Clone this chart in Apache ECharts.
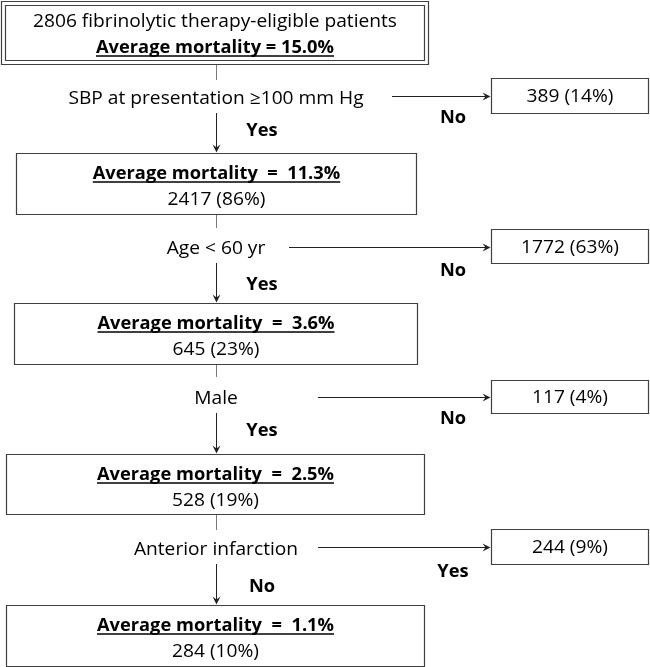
<!DOCTYPE html>
<html>
<head>
<meta charset="utf-8">
<script src="https://cdn.jsdelivr.net/npm/echarts@6/dist/echarts.min.js"></script>
<style>
  html, body { margin: 0; padding: 0; background: #fff; }
  #chart { width: 650px; height: 667px; }
</style>
</head>
<body>
<div id="chart"></div>
<script>
// ---------------- DATA ----------------
const cohortLabel = 'fibrinolytic therapy-eligible patients';
const nodeCounts = [2806, 2417, 645, 528, 284];
const nodePct = [null, 86, 23, 19, 10];
const mortality = [15.0, 11.3, 3.6, 2.5, 1.1];
const criteria = ['SBP at presentation \u2265100 mm Hg', 'Age < 60 yr', 'Male', 'Anterior infarction'];
const continueLabel = ['Yes', 'Yes', 'Yes', 'No'];
const exitLabel = ['No', 'No', 'No', 'Yes'];
const exitCounts = [389, 1772, 117, 244];
const exitPct = [14, 63, 4, 9];

// ---------------- LAYOUT (positions in px of a 650x667 canvas) ----------------
const LAYOUT = {
  lineX: 216,
  mainBoxes: [[1, 1, 428, 64], [16, 153, 416, 214], [14, 303, 417, 364], [6, 454, 424, 514], [6, 605, 424, 666]],
  lineDy: [20, 46],
  underlineDy: 9,
  textNudge: 1,
  decisionY: [98, 248, 398, 549],
  upperEnd: [80, 228, 377, 530],
  arrowStart: [113, 263, 413, 564],
  sideArrowStartX: [392, 289, 318, 318],
  sideArrowY: [96, 247, 397, 547],
  sideBoxX: [491, 648],
  sideBoxY: [[78, 113], [229, 263], [380, 413], [529, 564]],
  sideLabelX: 453,
  sideLabelY: [117, 270, 418, 571],
  mainLabelX: 262,
  mainLabelY: [130, 284, 430, 586]
};

// ---------------- STYLE ----------------
const FAMILY = '"Open Sans", Lato, sans-serif';
const FS = 18;
const TEXT_COLOR = '#000';
const BOX_COLOR = '#404040';
const LINE_COLOR = '#7a7a7a';
const ARROW_COLOR = '#222';

const mctx = document.createElement('canvas').getContext('2d');
function tw(text, weight) {
  mctx.font = weight + ' ' + FS + 'px ' + FAMILY;
  return mctx.measureText(text).width;
}
// horizontal scale so that the text widths match the reference
const SX = 364 / tw(nodeCounts[0] + ' ' + cohortLabel, 'normal');
const SXB = 238 / tw('Average mortality = ' + mortality[0].toFixed(1) + '%', 'bold');

function textEl(str, x, y, bold) {
  return {
    type: 'text',
    x: x, y: y + LAYOUT.textNudge,
    scaleX: bold ? SXB : SX,
    style: {
      text: str, x: 0, y: 0,
      fill: TEXT_COLOR,
      fontFamily: FAMILY,
      fontSize: FS,
      fontWeight: bold ? 'bold' : 'normal',
      align: 'center', verticalAlign: 'middle'
    }
  };
}
function underlined(str, x, y) {
  const w = tw(str, 'bold') * SXB;
  return [textEl(str, x, y, true), {
    type: 'line',
    shape: { x1: x - w / 2, y1: y + LAYOUT.underlineDy, x2: x + w / 2, y2: y + LAYOUT.underlineDy },
    style: { stroke: TEXT_COLOR, lineWidth: 1.3 }
  }];
}
function seg(p, q, color) {
  return { type: 'line', shape: { x1: p[0], y1: p[1], x2: q[0], y2: q[1] }, style: { stroke: color, lineWidth: 1 } };
}
function arrowHead(tip, dir) {
  const L = 8, W = 4, N = 5;
  let pts;
  if (dir === 'down') {
    pts = [[tip[0], tip[1]], [tip[0] - W, tip[1] - L], [tip[0], tip[1] - N], [tip[0] + W, tip[1] - L]];
  } else {
    pts = [[tip[0], tip[1]], [tip[0] - L, tip[1] - W], [tip[0] - N, tip[1]], [tip[0] - L, tip[1] + W]];
  }
  return { type: 'polygon', shape: { points: pts }, style: { fill: ARROW_COLOR } };
}

function renderMain(params, api) {
  const i = params.dataIndex;
  const b = LAYOUT.mainBoxes[i];
  const p0 = api.coord([b[0], b[1]]);
  const p1 = api.coord([b[2], b[3]]);
  const x0 = Math.round(p0[0]) + 0.5, y0 = Math.round(p0[1]) + 0.5;
  const x1 = Math.round(p1[0]) + 0.5, y1 = Math.round(p1[1]) + 0.5;
  const cx = (x0 + x1) / 2;
  const l1 = api.coord([0, b[1] + LAYOUT.lineDy[0]])[1];
  const l2 = api.coord([0, b[1] + LAYOUT.lineDy[1]])[1];
  const children = [{
    type: 'rect', shape: { x: x0, y: y0, width: x1 - x0, height: y1 - y0 },
    style: { fill: '#fff', stroke: BOX_COLOR, lineWidth: 1.2 }
  }];
  const mort = mortality[i].toFixed(1) + '%';
  if (i === 0) {
    children.push({
      type: 'rect', shape: { x: x0 + 4, y: y0 + 4, width: x1 - x0 - 8, height: y1 - y0 - 8 },
      style: { fill: 'none', stroke: BOX_COLOR, lineWidth: 1.2 }
    });
    children.push(textEl(nodeCounts[i] + ' ' + cohortLabel, cx, l1, false));
    children.push.apply(children, underlined('Average mortality = ' + mort, cx, l2));
  } else {
    children.push.apply(children, underlined('Average mortality  =  ' + mort, cx, l1));
    children.push(textEl(nodeCounts[i] + ' (' + nodePct[i] + '%)', cx, l2, false));
  }
  return { type: 'group', children: children };
}

function renderDecision(params, api) {
  const i = params.dataIndex;
  const lx = Math.round(api.coord([LAYOUT.lineX, 0])[0]) + 0.5;
  const prevBox = LAYOUT.mainBoxes[i];
  const nextBox = LAYOUT.mainBoxes[i + 1];
  const c = (x, y) => api.coord([x, y]);
  const children = [];
  children.push(seg([lx, c(0, prevBox[3])[1]], [lx, c(0, LAYOUT.upperEnd[i])[1]], LINE_COLOR));
  children.push(textEl(criteria[i], c(LAYOUT.lineX, 0)[0], c(0, LAYOUT.decisionY[i])[1], false));
  const tipY = c(0, nextBox[1])[1] - 0.5;
  children.push(seg([lx, c(0, LAYOUT.arrowStart[i])[1]], [lx, tipY - 4], ARROW_COLOR));
  children.push(arrowHead([lx, tipY], 'down'));
  children.push(textEl(continueLabel[i], c(LAYOUT.mainLabelX, 0)[0], c(0, LAYOUT.mainLabelY[i])[1], true));
  const ay = Math.round(c(0, LAYOUT.sideArrowY[i])[1]) + 0.5;
  const bx0 = Math.round(c(LAYOUT.sideBoxX[0], 0)[0]) + 0.5;
  const bx1 = Math.round(c(LAYOUT.sideBoxX[1], 0)[0]) + 0.5;
  const by0 = Math.round(c(0, LAYOUT.sideBoxY[i][0])[1]) + 0.5;
  const by1 = Math.round(c(0, LAYOUT.sideBoxY[i][1])[1]) + 0.5;
  children.push(seg([c(LAYOUT.sideArrowStartX[i], 0)[0], ay], [bx0 - 5, ay], ARROW_COLOR));
  children.push(arrowHead([bx0 - 1, ay], 'right'));
  children.push(textEl(exitLabel[i], c(LAYOUT.sideLabelX, 0)[0], c(0, LAYOUT.sideLabelY[i])[1], true));
  children.push({
    type: 'rect', shape: { x: bx0, y: by0, width: bx1 - bx0, height: by1 - by0 },
    style: { fill: '#fff', stroke: BOX_COLOR, lineWidth: 1.2 }
  });
  children.push(textEl(exitCounts[i] + ' (' + exitPct[i] + '%)', (bx0 + bx1) / 2, (by0 + by1) / 2, false));
  return { type: 'group', children: children };
}

const chart = echarts.init(document.getElementById('chart'), null, { renderer: 'canvas' });
chart.setOption({
  animation: false,
  backgroundColor: '#fff',
  grid: { left: 0, right: 0, top: 0, bottom: 0 },
  xAxis: { type: 'value', min: 0, max: 650, show: false },
  yAxis: { type: 'value', min: 0, max: 667, inverse: true, show: false },
  series: [
    {
      type: 'custom', name: 'Decisions', clip: false,
      data: criteria.map((c, i) => [i, exitCounts[i], exitPct[i]]),
      encode: { x: 0, y: 1 },
      renderItem: renderDecision
    },
    {
      type: 'custom', name: 'Subgroups', clip: false,
      data: nodeCounts.map((n, i) => [i, n, mortality[i]]),
      encode: { x: 0, y: 1 },
      renderItem: renderMain
    }
  ]
});
</script>
</body>
</html>
